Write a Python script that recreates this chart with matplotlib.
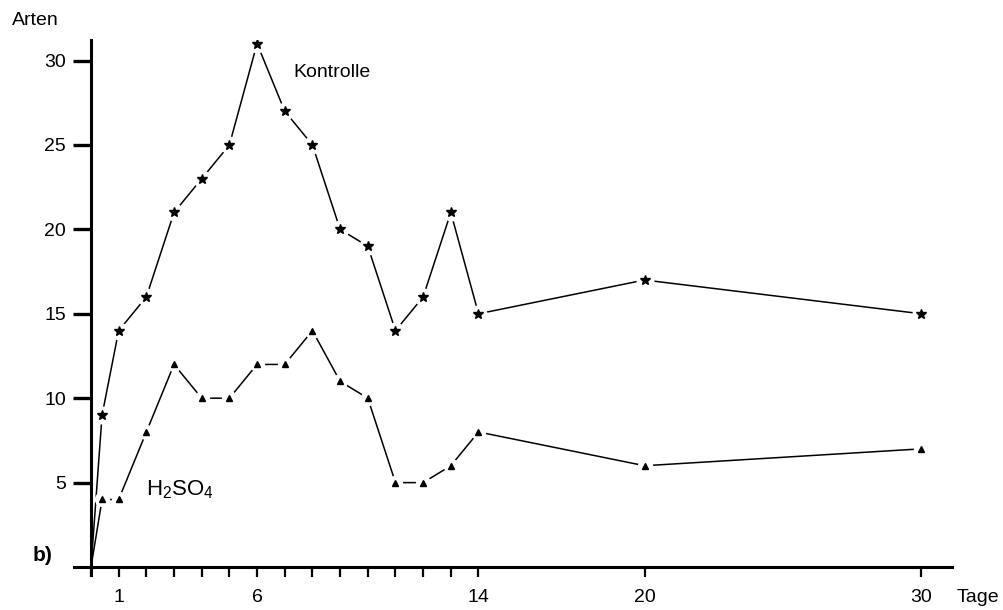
import matplotlib
matplotlib.use("Agg")
import matplotlib.pyplot as plt

# Sampling days (first sample a few hours after the start)
days = [0, 0.4, 1, 2, 3, 4, 5, 6, 7, 8, 9, 10, 11, 12, 13, 14, 20, 30]
kontrolle = [0, 9, 14, 16, 21, 23, 25, 31, 27, 25, 20, 19, 14, 16, 21, 15, 17, 15]
h2so4 = [0, 4, 4, 8, 12, 10, 10, 12, 12, 14, 11, 10, 5, 5, 6, 8, 6, 7]

x_ticks = list(range(0, 15)) + [20, 30]
x_labels = {1: "1", 6: "6", 14: "14", 20: "20", 30: "30"}
y_ticks = [5, 10, 15, 20, 25, 30]

plt.rcParams["font.family"] = ["Liberation Sans", "DejaVu Sans"]
plt.rcParams["mathtext.fontset"] = "custom"
plt.rcParams["mathtext.rm"] = "Liberation Sans"

fig = plt.figure(figsize=(10.04, 6.10), dpi=100)
ax = fig.add_axes([0.0741, 0.0566, 0.948 - 0.0741, 0.934 - 0.0566])


def draw_series(ax, x, y, marker, ms):
    ax.plot(x, y, color="black", linewidth=1.1, zorder=2)
    # white halo around the markers gives the broken-line look
    ax.plot(x[1:], y[1:], linestyle="none", marker="o", ms=ms + 5,
            color="white", markeredgecolor="white", zorder=3)
    ax.plot(x[1:], y[1:], linestyle="none", marker=marker, ms=ms,
            color="black", zorder=4)


draw_series(ax, days, kontrolle, "*", 7)
draw_series(ax, days, h2so4, "^", 5)

ax.set_xlim(-0.6, 31.1)
ax.set_ylim(-0.5, 31.2)
ax.spines["left"].set_position(("data", 0))
ax.spines["bottom"].set_position(("data", 0))
ax.spines["top"].set_visible(False)
ax.spines["right"].set_visible(False)
for s in ("left", "bottom"):
    ax.spines[s].set_linewidth(2.2)

ax.set_xticks(x_ticks)
ax.set_xticklabels([x_labels.get(t, "") for t in x_ticks])
ax.set_yticks(y_ticks)
ax.set_yticklabels([str(t) for t in y_ticks])
ax.tick_params(axis="y", direction="out", length=13, width=2.4, pad=5, labelsize=14)
ax.tick_params(axis="x", direction="out", length=7, width=1.6, pad=9, labelsize=14)

ax.text(0.012, 0.967, "Arten", transform=fig.transFigure, fontsize=14, va="center", ha="left")
ax.text(0.953, 0.020, "Tage", transform=fig.transFigure, fontsize=14, va="center", ha="left")
ax.text(0.032, 0.090, "b)", transform=fig.transFigure, fontsize=15, fontweight="bold", va="center", ha="left")
ax.text(7.3, 29.3, "Kontrolle", fontsize=14, va="center", ha="left")
ax.text(2.0, 4.6, r"$\mathrm{H}_{2}\mathrm{SO}_{4}$", fontsize=16, va="center", ha="left")

fig.savefig("out.png", dpi=100)
